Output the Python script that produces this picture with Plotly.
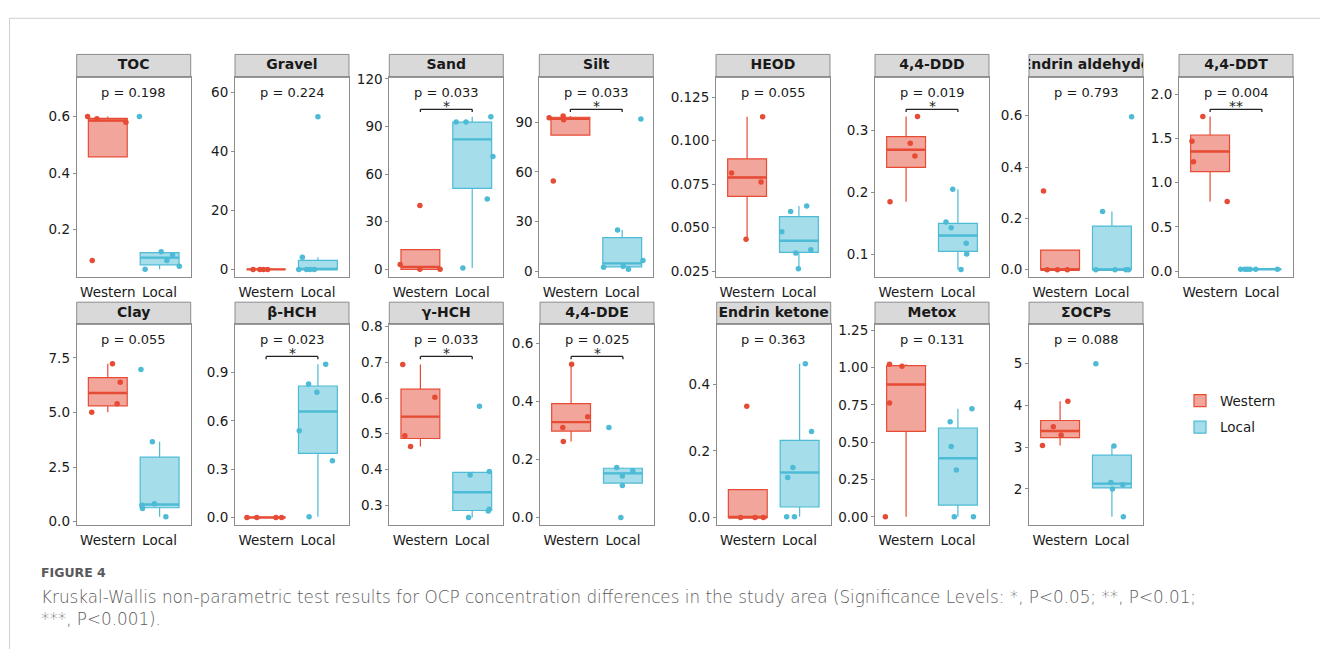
import numpy as np
import plotly.graph_objects as go

W, H = 1320, 654
WEST_COL = "#E64B35"
LOCAL_COL = "#4DBBD5"
WEST_FILL = "rgba(230,75,53,0.5)"
LOCAL_FILL = "rgba(77,187,213,0.5)"
FONT = "DejaVu Sans"

groups = ["Western", "Local"]
panel_names = ["TOC", "Gravel", "Sand", "Silt", "HEOD", "4,4-DDD", "Endrin aldehyde", "4,4-DDT",
               "Clay", "β-HCH", "γ-HCH", "4,4-DDE", "Endrin ketone", "Metox", "ΣOCPs"]
p_values = [0.198, 0.224, 0.033, 0.033, 0.055, 0.019, 0.793, 0.004,
            0.055, 0.023, 0.033, 0.025, 0.363, 0.131, 0.088]

# ---- observed values (y) and jittered horizontal positions (x) ----
toc_western = [0.600, 0.592, 0.580, 0.090]
toc_western_x = [0.61, 0.79, 1.35, 0.70]
toc_local = [0.600, 0.121, 0.111, 0.090, 0.059, 0.070]
toc_local_x = [1.61, 2.03, 2.25, 2.14, 1.72, 2.38]

gravel_western = [0.0, 0.0, 0.0, 0.0]
gravel_western_x = [0.75, 0.88, 1.03, 0.95]
gravel_local = [51.7, 4.1, 0.0, 0.0, 0.0, 0.0]
gravel_local_x = [2.00, 1.70, 1.63, 1.78, 1.93, 1.85]

sand_western = [3.1, 40.2, 0.0, 0.0]
sand_western_x = [0.61, 0.99, 0.99, 1.38]
sand_local = [92.8, 92.8, 96.2, 71.1, 44.3, 0.8]
sand_local_x = [1.69, 1.88, 2.36, 2.40, 2.29, 1.82]

silt_western = [92.7, 93.7, 91.4, 54.5]
silt_western_x = [0.59, 0.86, 0.87, 0.67]
silt_local = [2.5, 24.9, 3.1, 1.2, 6.5, 91.9]
silt_local_x = [1.64, 1.91, 2.02, 2.12, 2.40, 2.36]

heod_western = [0.0814, 0.1137, 0.0762, 0.0432]
heod_western_x = [0.70, 1.30, 1.27, 0.98]
heod_local = [0.0476, 0.0592, 0.0353, 0.0263, 0.0624, 0.0372]
heod_local_x = [1.67, 1.84, 1.94, 1.99, 2.15, 2.23]

ddd_western = [0.185, 0.2795, 0.259, 0.323]
ddd_western_x = [0.69, 1.08, 1.17, 1.22]
ddd_local = [0.205, 0.152, 0.1425, 0.1175, 0.100, 0.075]
ddd_local_x = [1.90, 1.77, 1.87, 2.16, 2.17, 2.06]

eald_western = [0.307, 0.0, 0.0, 0.0]
eald_western_x = [0.68, 0.75, 0.95, 1.14]
eald_local = [0.596, 0.227, 0.0, 0.0, 0.0, 0.0]
eald_local_x = [2.38, 1.82, 1.69, 2.06, 2.27, 2.32]

ddt_western = [1.748, 1.470, 1.237, 0.786]
ddt_western_x = [0.86, 0.65, 0.68, 1.33]
ddt_local = [0.020, 0.020, 0.021, 0.019, 0.020, 0.020]
ddt_local_x = [1.59, 1.67, 1.72, 1.77, 1.88, 2.30]

clay_western = [5.01, 7.23, 6.38, 5.40]
clay_western_x = [0.69, 1.09, 1.24, 1.18]
clay_local = [6.96, 3.66, 0.75, 0.60, 0.82, 0.22]
clay_local_x = [1.64, 1.86, 1.66, 1.67, 1.90, 2.12]

bhch_western = [0.0, 0.0, 0.0, 0.0]
bhch_western_x = [0.63, 0.82, 1.19, 1.30]
bhch_local = [0.538, 0.829, 0.778, 0.951, 0.352, 0.004]
bhch_local_x = [1.64, 1.82, 1.98, 2.15, 2.28, 1.83]

ghch_western = [0.694, 0.602, 0.494, 0.464]
ghch_western_x = [0.66, 1.28, 0.70, 0.81]
ghch_local = [0.577, 0.384, 0.394, 0.2835, 0.288, 0.265]
ghch_local_x = [2.14, 1.96, 2.33, 2.31, 2.33, 1.93]

dde_western = [0.528, 0.347, 0.310, 0.2615]
dde_western_x = [1.01, 1.32, 0.84, 0.85]
dde_local = [0.310, 0.1725, 0.161, 0.143, 0.1106, 0.0]
dde_local_x = [1.73, 1.88, 2.19, 1.99, 1.99, 1.96]

eket_western = [0.334, 0.0, 0.0, 0.0]
eket_western_x = [0.98, 0.86, 1.14, 1.30]
eket_local = [0.462, 0.2585, 0.150, 0.120, 0.002, 0.002]
eket_local_x = [2.11, 2.23, 1.87, 1.77, 1.75, 1.90]

metox_western = [1.022, 1.009, 0.763, 0.0]
metox_western_x = [0.68, 0.92, 0.68, 0.60]
metox_local = [0.724, 0.636, 0.471, 0.313, 0.0, 0.0]
metox_local_x = [2.27, 1.85, 1.87, 1.97, 1.93, 2.30]

socp_western = [3.04, 3.487, 3.292, 4.098]
socp_western_x = [0.66, 0.87, 1.02, 1.15]
socp_local = [5.0, 3.027, 2.157, 2.0, 2.10, 1.335]
socp_local_x = [1.69, 2.04, 1.98, 2.01, 2.21, 2.22]

# ---- tick labels ----
toc_ticks = ["0.2", "0.4", "0.6"]
gravel_ticks = ["0", "20", "40", "60"]
sand_ticks = ["0", "30", "60", "90", "120"]
silt_ticks = ["0", "30", "60", "90"]
heod_ticks = ["0.025", "0.050", "0.075", "0.100", "0.125"]
ddd_ticks = ["0.1", "0.2", "0.3"]
eald_ticks = ["0.0", "0.2", "0.4", "0.6"]
ddt_ticks = ["0.0", "0.5", "1.0", "1.5", "2.0"]
clay_ticks = ["0.0", "2.5", "5.0", "7.5"]
bhch_ticks = ["0.0", "0.3", "0.6", "0.9"]
ghch_ticks = ["0.3", "0.4", "0.5", "0.6", "0.7", "0.8"]
dde_ticks = ["0.0", "0.2", "0.4", "0.6"]
eket_ticks = ["0.0", "0.2", "0.4"]
metox_ticks = ["0.00", "0.25", "0.50", "0.75", "1.00", "1.25"]
socp_ticks = ["2", "3", "4", "5"]

panel_data = [
    (toc_western, toc_western_x, toc_local, toc_local_x, toc_ticks),
    (gravel_western, gravel_western_x, gravel_local, gravel_local_x, gravel_ticks),
    (sand_western, sand_western_x, sand_local, sand_local_x, sand_ticks),
    (silt_western, silt_western_x, silt_local, silt_local_x, silt_ticks),
    (heod_western, heod_western_x, heod_local, heod_local_x, heod_ticks),
    (ddd_western, ddd_western_x, ddd_local, ddd_local_x, ddd_ticks),
    (eald_western, eald_western_x, eald_local, eald_local_x, eald_ticks),
    (ddt_western, ddt_western_x, ddt_local, ddt_local_x, ddt_ticks),
    (clay_western, clay_western_x, clay_local, clay_local_x, clay_ticks),
    (bhch_western, bhch_western_x, bhch_local, bhch_local_x, bhch_ticks),
    (ghch_western, ghch_western_x, ghch_local, ghch_local_x, ghch_ticks),
    (dde_western, dde_western_x, dde_local, dde_local_x, dde_ticks),
    (eket_western, eket_western_x, eket_local, eket_local_x, eket_ticks),
    (metox_western, metox_western_x, metox_local, metox_local_x, metox_ticks),
    (socp_western, socp_western_x, socp_local, socp_local_x, socp_ticks),
]

# ---- layout geometry (pixels) ----
y_ranges = [
    [0.032, 0.739], [-2.56, 65.0], [-4.8, 121.0], [-3.4, 117.0],
    [0.0216, 0.1363], [0.0629, 0.3865], [-0.028, 0.749], [-0.067, 2.192],
    [-0.135, 9.03], [-0.0445, 1.199], [0.245, 0.8066], [-0.0247, 0.6656],
    [-0.0215, 0.58], [-0.0526, 1.289], [1.147, 5.94],
]
top_lefts = [76.7, 235.0, 389.3, 539.3, 716.0, 875.0, 1029.0, 1179.0]
bot_lefts = [76.7, 235.0, 389.3, 540.0, 716.7, 875.0, 1029.0]
PANEL_W = 114.0
rows = [dict(strip_top=48.3, top=71.7, bottom=275.0), dict(strip_top=300.7, top=323.3, bottom=527.3)]

def px(x):
    return x / W

def py(y):
    return 1 - y / H

def box_stats(vals):
    v = np.sort(np.asarray(vals, dtype=float))
    q1, med, q3 = np.percentile(v, [25, 50, 75])
    iqr = q3 - q1
    inside = v[(v >= q1 - 1.5 * iqr) & (v <= q3 + 1.5 * iqr)]
    lo, hi = inside.min(), inside.max()
    return q1, med, q3, min(lo, q1), max(hi, q3)

def sig_label(p):
    if p < 0.001:
        return "***"
    if p < 0.01:
        return "**"
    if p < 0.05:
        return "*"
    return ""

fig = go.Figure()
layout = dict(
    width=W, height=H, autosize=False,
    margin=dict(l=0, r=0, t=0, b=0),
    paper_bgcolor="white", plot_bgcolor="rgba(0,0,0,0)",
    font=dict(family=FONT, color="#1a1a1a"),
    showlegend=True,
    legend=dict(x=px(1180), y=py(415), xanchor="left", yanchor="middle",
                font=dict(family=FONT, size=13.5, color="#1a1a1a"),
                bgcolor="rgba(0,0,0,0)", tracegroupgap=6, itemwidth=30),
)
shapes = []
annotations = []

AX = "#8c8c8c"
n_panels = len(panel_names)
for i, name in enumerate(panel_names):
    r = 0 if i < 8 else 1
    left = top_lefts[i] if r == 0 else bot_lefts[i - 8]
    row = rows[r]
    k = i + 1
    ks = i + 1 + n_panels
    xa = "x" if k == 1 else f"x{k}"
    ya = "y" if k == 1 else f"y{k}"
    xs = f"x{ks}"
    ys = f"y{ks}"
    wv, wx, lv, lx, ticks = panel_data[i]

    layout[f"xaxis{k}"] = dict(
        domain=[px(left), px(left + PANEL_W)], range=[0.4, 2.6], anchor=ya,
        tickvals=[1, 2], ticktext=groups, ticks="outside", ticklen=3,
        tickcolor="rgba(0,0,0,0)", showline=True, mirror=True, linecolor=AX, linewidth=1,
        showgrid=False, zeroline=False, fixedrange=True,
        tickfont=dict(family=FONT, size=13.5, color="#1a1a1a"),
    )
    layout[f"yaxis{k}"] = dict(
        domain=[py(row["bottom"]), py(row["top"])], range=y_ranges[i], anchor=xa,
        tickvals=[float(t) for t in ticks], ticktext=ticks, ticks="outside", ticklen=3,
        tickcolor=AX, showline=True, mirror=True, linecolor=AX, linewidth=1,
        showgrid=False, zeroline=False, fixedrange=True,
        tickfont=dict(family=FONT, size=13.5, color="#1a1a1a"),
    )
    layout[f"xaxis{ks}"] = dict(domain=[px(left), px(left + PANEL_W)], range=[0, 1],
                                anchor=ys, visible=False, fixedrange=True)
    layout[f"yaxis{ks}"] = dict(domain=[py(row["top"]), py(row["strip_top"])], range=[0, 1],
                                anchor=xs, visible=False, fixedrange=True)

    # strip background
    shapes.append(dict(type="rect", xref="paper", yref="paper", layer="below",
                       x0=px(left), x1=px(left + PANEL_W), y0=py(row["top"]), y1=py(row["strip_top"]),
                       fillcolor="#D9D9D9", line=dict(color=AX, width=1)))
    # strip label (clipped to the strip)
    fig.add_trace(go.Scatter(x=[0.5], y=[0.5], xaxis=xs, yaxis=ys, mode="text",
                             text=[f"<b>{name}</b>"], textposition="middle center",
                             textfont=dict(family=FONT, size=14, color="#1a1a1a"),
                             cliponaxis=True, showlegend=False, hoverinfo="skip"))

    for g, (vals, xpos, col, fill) in enumerate([(wv, wx, WEST_COL, WEST_FILL),
                                                 (lv, lx, LOCAL_COL, LOCAL_FILL)]):
        center = g + 1
        q1, med, q3, lo, hi = box_stats(vals)
        fig.add_trace(go.Box(
            x=[center], q1=[q1], median=[med], q3=[q3], lowerfence=[lo], upperfence=[hi],
            width=0.75, whiskerwidth=0, boxpoints=False,
            fillcolor=fill, line=dict(color=col, width=1.2),
            xaxis=xa, yaxis=ya, name=groups[g], legendgroup=groups[g],
            showlegend=(i == 0), hoverinfo="skip"))
        fig.add_trace(go.Scatter(
            x=[center - 0.375, center + 0.375], y=[med, med], mode="lines",
            line=dict(color=col, width=2.4), xaxis=xa, yaxis=ya,
            showlegend=False, hoverinfo="skip", cliponaxis=False))
        fig.add_trace(go.Scatter(
            x=xpos, y=vals, mode="markers", marker=dict(color=col, size=5.5),
            xaxis=xa, yaxis=ya, showlegend=False, hoverinfo="skip", cliponaxis=False))

    # p-value label
    annotations.append(dict(text=f"p = {p_values[i]:.3f}", xref=f"{xa} domain", yref=f"{ya} domain",
                            x=0.5, y=0.926, xanchor="center", yanchor="middle", showarrow=False,
                            font=dict(family=FONT, size=13, color="#1a1a1a")))
    lab = sig_label(p_values[i])
    if lab:
        yb, yt = 0.826, 0.84
        for (x0, y0, x1, y1) in [(1, yb, 1, yt), (1, yt, 2, yt), (2, yt, 2, yb)]:
            shapes.append(dict(type="line", xref=xa, yref=f"{ya} domain",
                               x0=x0, y0=y0, x1=x1, y1=y1,
                               line=dict(color="#222222", width=1.3)))
        annotations.append(dict(text=lab, xref=xa, yref=f"{ya} domain", x=1.5, y=0.84,
                                xanchor="center", yanchor="bottom", yshift=-7, showarrow=False,
                                font=dict(family=FONT, size=14, color="#222222")))

# page frame
shapes.append(dict(type="line", xref="paper", yref="paper", x0=px(9.5), x1=px(9.5), y0=0, y1=py(11.5),
                   line=dict(color="#cfcfcf", width=1)))
shapes.append(dict(type="line", xref="paper", yref="paper", x0=px(9.5), x1=1, y0=py(11.5), y1=py(11.5),
                   line=dict(color="#cfcfcf", width=1)))

caption_head = "FIGURE 4"
caption_line1 = ("Kruskal-Wallis non-parametric test results for OCP concentration differences in the "
                 "study area (Significance Levels: *, P&lt;0.05; **, P&lt;0.01;")
caption_line2 = "***, P&lt;0.001)."
annotations.append(dict(text=caption_head, xref="paper", yref="paper", x=px(39), y=py(576),
                        xanchor="left", yanchor="middle", showarrow=False,
                        font=dict(family="DejaVu Sans", size=12.5, color="#5a5a5a", weight=600)))
annotations.append(dict(text=caption_line1, xref="paper", yref="paper", x=px(39), y=py(601),
                        xanchor="left", yanchor="middle", showarrow=False,
                        font=dict(family="DejaVu Sans", size=16.8, color="#5c5c5c", weight=300)))
annotations.append(dict(text=caption_line2, xref="paper", yref="paper", x=px(39), y=py(623),
                        xanchor="left", yanchor="middle", showarrow=False,
                        font=dict(family="DejaVu Sans", size=16.8, color="#5c5c5c", weight=300)))

layout["shapes"] = shapes
layout["annotations"] = annotations
fig.update_layout(**layout)
fig.write_html("out.html", config={"displayModeBar": False})
